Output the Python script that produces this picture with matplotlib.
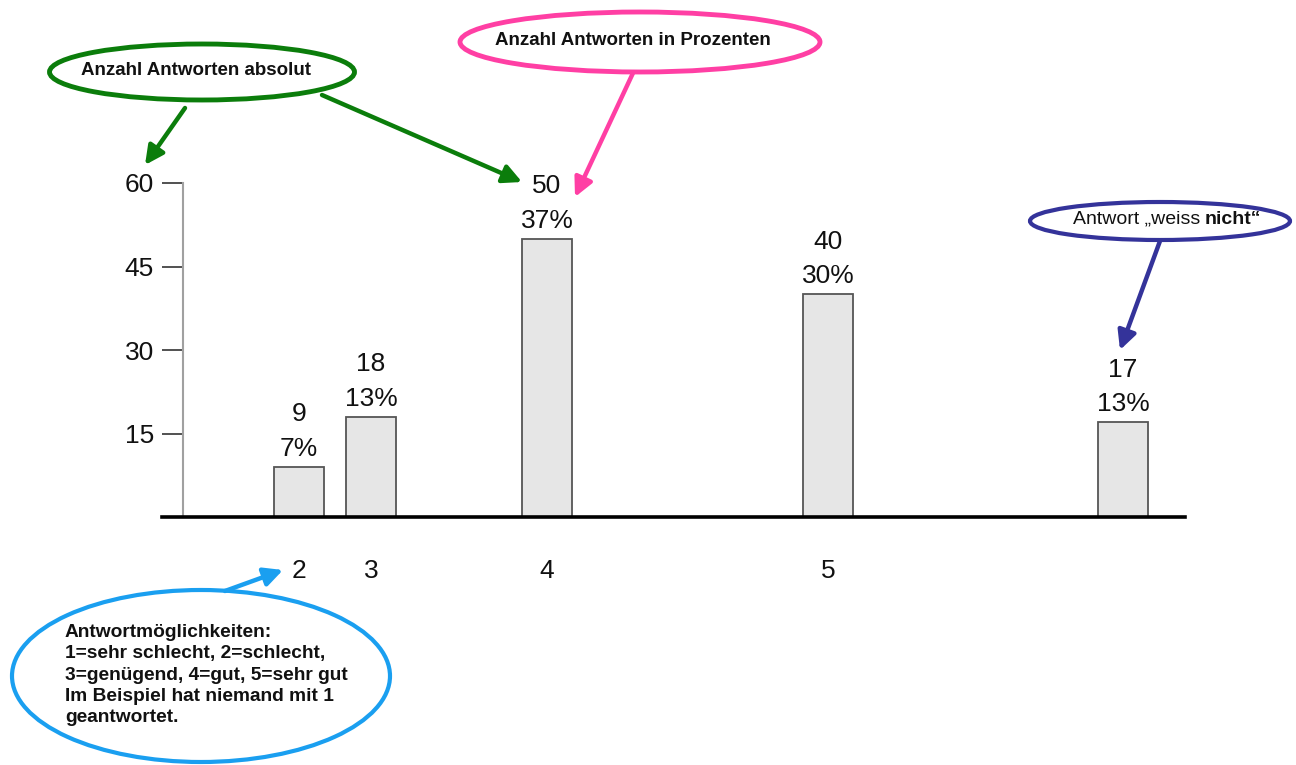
import matplotlib.pyplot as plt
from matplotlib.patches import Ellipse

plt.rcParams['font.family'] = ['Liberation Sans', 'DejaVu Sans']

# data
categories = ['2', '3', '4', '5', '']
counts = [9, 18, 50, 40, 17]
total = sum(counts)
percents = ['%d%%' % round(100.0 * c / total) for c in counts]
yticks = [15, 30, 45, 60]

# layout (x in pixel-like units along the axis)
bar_pos = [137, 209, 385, 666, 961]
bar_w = 50

fig = plt.figure(figsize=(12.96, 7.65), dpi=100)
ax = fig.add_axes([162 / 1296, 1 - 517 / 765, 1023 / 1296, 334 / 765])
ax.set_xlim(0, 1023)
ax.set_ylim(0, 60)

ax.bar(bar_pos, counts, width=bar_w, color='#e6e6e6', edgecolor='#555555',
       linewidth=1.3, zorder=2)

for x, c, p in zip(bar_pos, counts, percents):
    ax.annotate(str(c), (x, c), xytext=(0, 38), textcoords='offset points',
                ha='center', va='center', fontsize=19, color='#111111')
    ax.annotate(p, (x, c), xytext=(0, 13), textcoords='offset points',
                ha='center', va='center', fontsize=19, color='#111111')

# axes styling
for s in ['top', 'right']:
    ax.spines[s].set_visible(False)
ax.spines['bottom'].set_linewidth(2.6)
ax.spines['bottom'].set_color('black')
ax.spines['bottom'].set_zorder(3)
ax.spines['left'].set_position(('data', 21))
ax.spines['left'].set_color('#a0a0a0')
ax.spines['left'].set_linewidth(1.5)

ax.set_yticks(yticks)
ax.set_yticklabels([str(t) for t in yticks], fontsize=19, color='#111111')
ax.tick_params(axis='y', length=15, width=1.2, color='#333333', pad=6)
ax.yaxis.get_major_ticks()[-1].tick1line.set_color('#a0a0a0')

ax.set_xticks(bar_pos[:4])
ax.set_xticklabels(categories[:4], fontsize=19, color='#111111')
ax.tick_params(axis='x', length=0, pad=30)

# overlay for the callouts (pixel coordinates)
ov = fig.add_axes([0, 0, 1, 1])
ov.set_xlim(0, 1296)
ov.set_ylim(765, 0)
ov.axis('off')
ov.patch.set_alpha(0)

green = '#0b7d0b'
pink = '#ff3fa4'
navy = '#34339a'
sky = '#1a9ff0'

def callout(cx, cy, w, h, color, lw=3.5):
    ov.add_patch(Ellipse((cx, cy), w, h, fill=False, edgecolor=color, linewidth=lw))

def arrow(start, end, color):
    ov.annotate('', xy=end, xytext=start,
                arrowprops=dict(arrowstyle='-|>', color=color, lw=3.2,
                                mutation_scale=28, shrinkA=0, shrinkB=0))

callout(202, 72, 305, 56, green)
ov.text(196, 70, 'Anzahl Antworten absolut', ha='center', va='center',
        fontsize=13.5, fontweight='bold', color='#111111')
arrow((185, 108), (145, 165), green)
arrow((322, 95), (522, 182), green)

callout(640, 42, 360, 60, pink)
ov.text(633, 40, 'Anzahl Antworten in Prozenten', ha='center', va='center',
        fontsize=13.5, fontweight='bold', color='#111111')
arrow((633, 73), (575, 197), pink)

callout(1160, 221, 260, 38, navy, lw=3)
ov.text(1200, 219, 'Antwort \u201eweiss', ha='right', va='center',
        fontsize=14, color='#111111')
ov.text(1205, 219, 'nicht\u201c', ha='left', va='center',
        fontsize=14, fontweight='bold', color='#111111')
arrow((1160, 241), (1120, 350), navy)

callout(201, 676, 378, 172, sky, lw=3)
ov.text(65, 675, 'Antwortm\u00f6glichkeiten:\n1=sehr schlecht, 2=schlecht,\n'
        '3=gen\u00fcgend, 4=gut, 5=sehr gut\nIm Beispiel hat niemand mit 1\n'
        'geantwortet.', ha='left', va='center', fontsize=13.8,
        fontweight='bold', color='#111111', linespacing=1.33)
arrow((225, 591), (283, 570), sky)

fig.savefig('out.png', dpi=100)
